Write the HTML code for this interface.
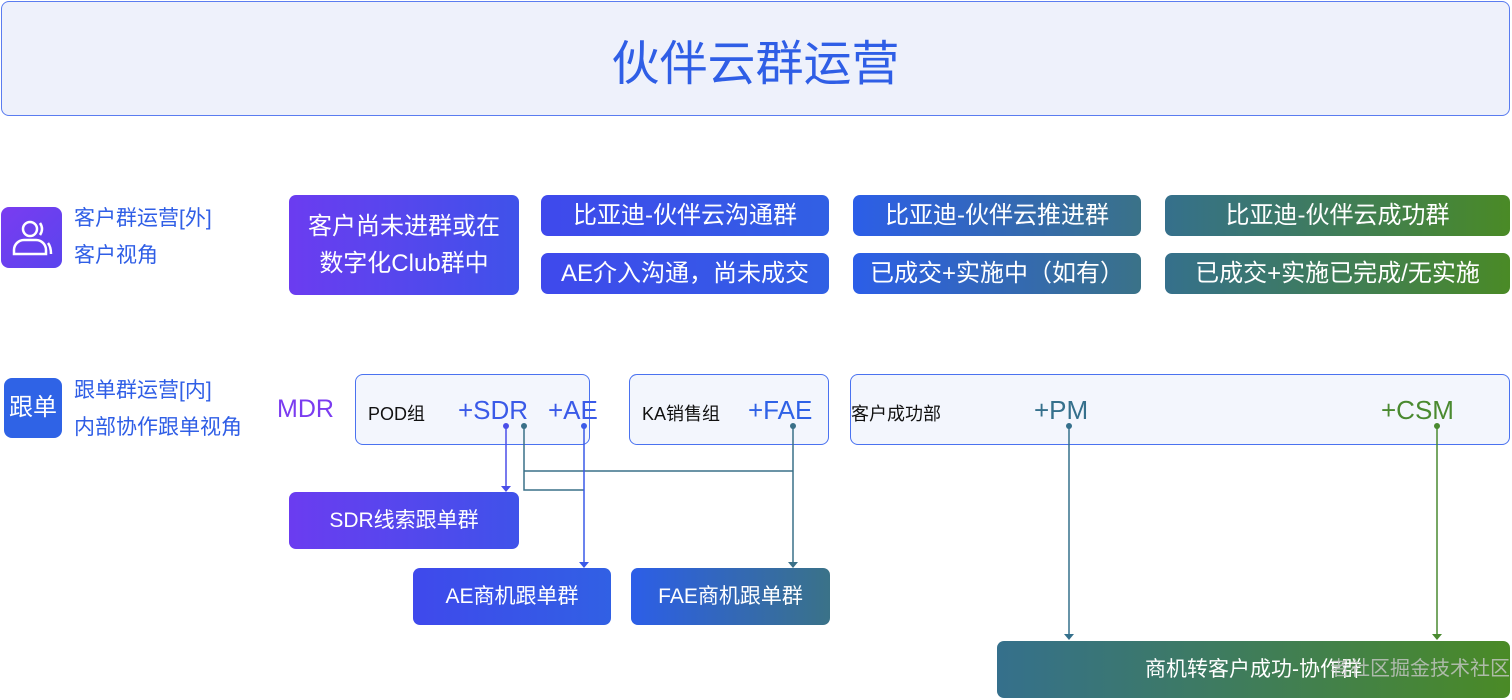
<!DOCTYPE html>
<html><head><meta charset="utf-8"><style>
*{margin:0;padding:0;box-sizing:border-box}
body{width:1512px;height:700px;background:#fff;position:relative;overflow:hidden;font-family:"Liberation Sans","Noto Sans CJK SC",sans-serif}
.a{position:absolute}
.g{position:absolute;color:#fff;border-radius:7px;display:flex;align-items:center;justify-content:center;text-align:center;font-size:24px;line-height:37px}
.pu{background:linear-gradient(90deg,#6b3cf0,#3f52ea)}
.bl{background:linear-gradient(90deg,#3f49ec,#3160e4)}
.bt{background:linear-gradient(90deg,#2c5ee8,#3a7288)}
.tg{background:linear-gradient(90deg,#35708c,#4a8a26)}
.wb{position:absolute;background:#f3f6fd;border:1.5px solid #4a72f0;border-radius:8px}
.lb{color:#2f5ee6;font-size:21px;line-height:37px}
</style></head><body>
<div class="a" style="left:1px;top:1px;width:1509px;height:115px;background:#eef1fb;border:1.5px solid #5a7cf0;border-radius:8px;display:flex;align-items:center;justify-content:center;color:#2f5ee6;font-size:48px">伙伴云群运营</div>

<div class="a" style="left:1px;top:207px;width:61px;height:61px;border-radius:8px;background:linear-gradient(135deg,#7a3cf0,#5a44ee)">
<svg width="61" height="61"><circle cx="29" cy="22" r="7" fill="none" stroke="#fff" stroke-width="2.5"/><path d="M13 47v-4a10 10 0 0 1 10-10h12a10 10 0 0 1 10 10v4z" fill="none" stroke="#fff" stroke-width="2.5"/><path d="M39 16q4 6 0 12M47 36q3 4 3 11" fill="none" stroke="#fff" stroke-width="2.5"/></svg></div>
<div class="a lb" style="left:74px;top:200px">客户群运营[外]<br>客户视角</div>

<div class="a" style="left:4px;top:378px;width:58px;height:60px;border-radius:8px;background:#2f63e6;color:#fff;font-size:24px;text-align:center;line-height:60px">跟单</div>
<div class="a lb" style="left:74px;top:372px">跟单群运营[内]<br>内部协作跟单视角</div>

<div class="g pu" style="left:289px;top:195px;width:230px;height:100px">客户尚未进群或在<br>数字化Club群中</div>
<div class="g bl" style="left:541px;top:195px;width:288px;height:41px">比亚迪-伙伴云沟通群</div>
<div class="g bl" style="left:541px;top:253px;width:288px;height:41px">AE介入沟通，尚未成交</div>
<div class="g bt" style="left:853px;top:195px;width:288px;height:41px">比亚迪-伙伴云推进群</div>
<div class="g bt" style="left:853px;top:253px;width:288px;height:41px">已成交+实施中（如有）</div>
<div class="g tg" style="left:1165px;top:195px;width:345px;height:41px">比亚迪-伙伴云成功群</div>
<div class="g tg" style="left:1165px;top:253px;width:345px;height:41px">已成交+实施已完成/无实施</div>

<div class="a" style="left:277px;top:395px;color:#7b3cf0;font-size:25px">MDR</div>
<div class="wb" style="left:355px;top:374px;width:235px;height:71px"></div>
<div class="a" style="left:368px;top:400px;font-size:18px;color:#111">POD组</div>
<div class="a" style="left:458px;top:395px;font-size:26px;color:#3a5ae8">+SDR</div>
<div class="a" style="left:548px;top:395px;font-size:26px;color:#3a5ae8">+AE</div>
<div class="wb" style="left:629px;top:374px;width:200px;height:71px"></div>
<div class="a" style="left:642px;top:400px;font-size:18px;color:#111">KA销售组</div>
<div class="a" style="left:748px;top:395px;font-size:26px;color:#2f62e6">+FAE</div>
<div class="wb" style="left:850px;top:374px;width:660px;height:71px"></div>
<div class="a" style="left:851px;top:400px;font-size:18px;color:#111">客户成功部</div>
<div class="a" style="left:1034px;top:395px;font-size:26px;color:#35708c">+PM</div>
<div class="a" style="left:1381px;top:395px;font-size:26px;color:#4a8a30">+CSM</div>

<div class="g pu" style="left:289px;top:492px;width:230px;height:57px;font-size:21px">SDR线索跟单群</div>
<div class="g bl" style="left:413px;top:568px;width:198px;height:57px;font-size:21px">AE商机跟单群</div>
<div class="g bt" style="left:631px;top:568px;width:199px;height:57px;font-size:21px">FAE商机跟单群</div>
<div class="g tg" style="left:997px;top:641px;width:513px;height:57px;font-size:21px">商机转客户成功-协作群<span style="color:rgba(200,200,200,.8);margin-left:-2px;font-size:20px;position:absolute;left:335px">者社区掘金技术社区</span></div>

<svg class="a" style="left:0;top:0" width="1512" height="700">
<g fill="none" stroke-width="1.5">
<path d="M506 426V486" stroke="#4a4ee8"/>
<path d="M524 426V490H584M524 471H793" stroke="#3a7088"/>
<path d="M584 426V562" stroke="#3a5ae8"/>
<path d="M793 426V562" stroke="#3a7088"/>
<path d="M1069 426V634" stroke="#35708c"/>
<path d="M1437 426V634" stroke="#4a8a30"/>
</g>
<circle cx="506" cy="426" r="3" fill="#4a4ee8"/><circle cx="524" cy="426" r="3" fill="#3a7088"/>
<circle cx="584" cy="426" r="3" fill="#3a5ae8"/><circle cx="793" cy="426" r="3" fill="#3a7088"/>
<circle cx="1069" cy="426" r="3" fill="#35708c"/><circle cx="1437" cy="426" r="3" fill="#4a8a30"/>
<path d="M501 486h10l-5 6z" fill="#4a4ee8"/>
<path d="M579 562h10l-5 6z" fill="#3a5ae8"/>
<path d="M788 562h10l-5 6z" fill="#3a7088"/>
<path d="M1064 634h10l-5 6z" fill="#35708c"/>
<path d="M1432 634h10l-5 6z" fill="#4a8a30"/>
</svg>
</body></html>
